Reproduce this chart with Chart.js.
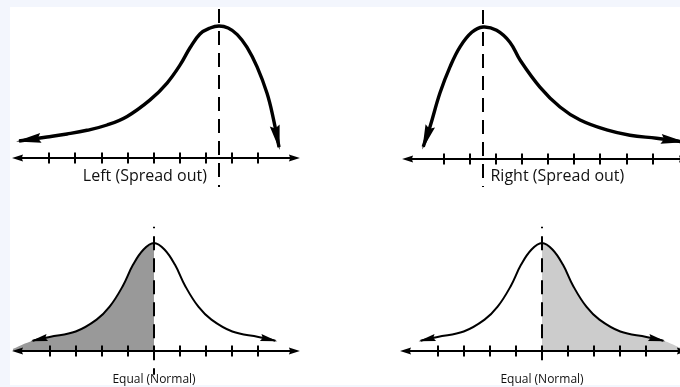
<!DOCTYPE html>
<html>
<head>
<meta charset="utf-8">
<script src="https://cdn.jsdelivr.net/npm/chart.js@4"></script>
<style>
  html, body { margin: 0; padding: 0; }
  body { width: 680px; height: 387px; background: #f3f6fd; position: relative; overflow: hidden; }
  .sheet { position: absolute; left: 10px; top: 7px; width: 670px; height: 378px; background: #fff; }
  canvas { position: absolute; }
</style>
</head>
<body>
<div class="sheet"></div>
<canvas id="leftSkew" width="330" height="193" style="left:10px;top:7px"></canvas>
<canvas id="rightSkew" width="340" height="193" style="left:340px;top:7px"></canvas>
<canvas id="leftShade" width="330" height="187" style="left:10px;top:200px"></canvas>
<canvas id="rightShade" width="340" height="187" style="left:340px;top:200px"></canvas>
<script>
// x in tick steps (0 = peak / dashed line), y relative to the peak height
const leftSkewX = [-7.66, -6.59, -5.82, -5.06, -4.29, -3.52, -2.64, -1.99, -1.49, -1.11, -0.73, -0.34, 0, 0.35, 0.7, 1.07, 1.46, 1.84, 2.07, 2.30];
const leftSkewY = [0.129, 0.159, 0.182, 0.21, 0.25, 0.315, 0.44, 0.568, 0.705, 0.835, 0.94, 0.985, 1, 0.985, 0.935, 0.84, 0.69, 0.49, 0.31, 0.083];
const rightSkewX = [-2.29, -2.03, -1.65, -1.26, -0.88, -0.43, 0, 0.52, 1.03, 1.42, 2.18, 2.95, 3.72, 4.74, 5.63, 6.65, 7.66];
const rightSkewY = [0.093, 0.245, 0.5, 0.70, 0.85, 0.96, 1, 0.975, 0.885, 0.75, 0.545, 0.394, 0.295, 0.22, 0.18, 0.157, 0.13];
const normalX = [-4.65, -4, -3, -2.2, -1.7, -1.2, -0.8, -0.4, 0, 0.4, 0.8, 1.2, 1.7, 2.2, 3, 4, 4.65];
const normalY = [0.095, 0.13, 0.18, 0.29, 0.41, 0.6, 0.8, 0.94, 1, 0.94, 0.8, 0.6, 0.41, 0.29, 0.18, 0.13, 0.095];
// where the shaded tails run into the axis
const shadeEdgeX = [-5.4, 5.3];
const shadeEdgeY = [0.02, 0.03];
const skewLeftTicks = [-6.5, -5.5, -4.5, -3.5, -2.5, -1.5, -0.5, 0.5, 1.5];
const skewRightTicks = [-1.5, -0.5, 0.5, 1.5, 2.5, 3.5, 4.5, 5.5, 6.5];
const normalTicks = [-4, -3, -2, -1, 0, 1, 2, 3, 4];
const panelLabels = ['Left (Spread out)', 'Right (Spread out)', 'Equal (Normal)', 'Equal (Normal)'];

const STEP_PX = 26.1;

function points(xs, ys) {
  return xs.map((x, i) => ({ x: x, y: ys[i] }));
}

function arrowHead(ctx, tip, from, len, half, ext) {
  const a = Math.atan2(tip.y - from.y, tip.x - from.x);
  ctx.save();
  ctx.translate(tip.x + Math.cos(a) * ext, tip.y + Math.sin(a) * ext);
  ctx.rotate(a);
  ctx.beginPath();
  ctx.moveTo(0, 0);
  ctx.lineTo(-len, -half);
  ctx.lineTo(-len * 0.88, 0);
  ctx.lineTo(-len, half);
  ctx.closePath();
  ctx.fill();
  ctx.restore();
}

const sketchPlugin = {
  id: 'sketch',
  afterDatasetsDraw(chart, args, opts) {
    const ctx = chart.ctx;
    const xs = chart.scales.x, ys = chart.scales.y;
    const y0 = ys.getPixelForValue(0);
    ctx.save();
    ctx.strokeStyle = '#000';
    ctx.fillStyle = '#000';

    // number line with arrows at both ends
    const ax1 = xs.getPixelForValue(opts.axis[0]);
    const ax2 = xs.getPixelForValue(opts.axis[1]);
    ctx.lineWidth = 1.8;
    ctx.beginPath();
    ctx.moveTo(ax1 + 6, y0);
    ctx.lineTo(ax2 - 6, y0);
    ctx.stroke();
    arrowHead(ctx, { x: ax1, y: y0 }, { x: ax1 + 10, y: y0 }, 11, 3.5, 0);
    arrowHead(ctx, { x: ax2, y: y0 }, { x: ax2 - 10, y: y0 }, 11, 3.5, 0);

    ctx.lineWidth = 2;
    opts.ticks.forEach(t => {
      const px = Math.round(xs.getPixelForValue(t));
      ctx.beginPath();
      ctx.moveTo(px, y0 - 5.5);
      ctx.lineTo(px, y0 + 5.5);
      ctx.stroke();
    });

    // dashed line through the peak
    const dx = xs.getPixelForValue(0);
    ctx.setLineDash([14, 8]);
    ctx.lineDashOffset = 12.5;
    ctx.beginPath();
    ctx.moveTo(dx, ys.getPixelForValue(opts.dash[0]));
    ctx.lineTo(dx, ys.getPixelForValue(opts.dash[1]));
    ctx.stroke();
    ctx.setLineDash([]);

    // arrow heads on the curve ends
    const pts = chart.getDatasetMeta(0).data;
    const n = pts.length;
    arrowHead(ctx, pts[0], pts[1], opts.head[0], opts.head[1], opts.head[2]);
    arrowHead(ctx, pts[n - 1], pts[n - 2], opts.head[0], opts.head[1], opts.head[2]);

    ctx.font = opts.font;
    ctx.fillStyle = '#111';
    ctx.textAlign = 'center';
    ctx.textBaseline = 'alphabetic';
    ctx.fillText(opts.label, xs.getPixelForValue(opts.labelAt[0]), ys.getPixelForValue(opts.labelAt[1]));
    ctx.restore();
  }
};

function drawPanel(id, layout, curve, shade, sketch) {
  const canvas = document.getElementById(id);
  const w = canvas.width, h = canvas.height;
  const datasets = [{
    data: curve,
    borderColor: '#000',
    borderWidth: layout.lineWidth,
    borderCapStyle: 'butt',
    borderJoinStyle: 'round',
    pointRadius: 0,
    tension: 0.4,
    fill: false,
    clip: false,
  }];
  if (shade) {
    datasets.push({
      data: shade.data,
      borderWidth: 0,
      borderColor: 'rgba(0,0,0,0)',
      backgroundColor: shade.color,
      pointRadius: 0,
      tension: 0.4,
      fill: 'origin',
    });
  }
  new Chart(canvas, {
    type: 'line',
    data: { datasets: datasets },
    plugins: [sketchPlugin],
    options: {
      responsive: false,
      animation: false,
      events: [],
      layout: { padding: 0 },
      plugins: { legend: { display: false }, tooltip: { enabled: false }, sketch: sketch },
      scales: {
        x: { type: 'linear', display: false, min: -layout.ox / STEP_PX, max: (w - layout.ox) / STEP_PX },
        y: { type: 'linear', display: false, min: -(h - layout.oy) / layout.yPx, max: layout.oy / layout.yPx },
      },
    },
  });
}

const leftTail = normalX.map((x, i) => ({ x: x, y: normalY[i] })).filter(p => p.x <= 0);
const rightTail = normalX.map((x, i) => ({ x: x, y: normalY[i] })).filter(p => p.x >= 0);

drawPanel('leftSkew', { ox: 209, oy: 151, yPx: 132, lineWidth: 3.4 },
  points(leftSkewX, leftSkewY), null,
  { axis: [-7.93, 3.1], ticks: skewLeftTicks, dash: [1.2, -0.22], head: [25, 5, 3],
    label: panelLabels[0], labelAt: [-2.84, -0.174], font: '16px "Open Sans"' });

drawPanel('rightSkew', { ox: 143, oy: 152, yPx: 132, lineWidth: 3.4 },
  points(rightSkewX, rightSkewY), null,
  { axis: [-3.1, 7.93], ticks: skewRightTicks, dash: [1.2, -0.212], head: [25, 5, 3],
    label: panelLabels[1], labelAt: [2.85, -0.167], font: '16px "Open Sans"' });

drawPanel('leftShade', { ox: 144, oy: 151, yPx: 108, lineWidth: 2 },
  points(normalX, normalY),
  { data: [{ x: shadeEdgeX[0], y: shadeEdgeY[0] }].concat(leftTail), color: '#999999' },
  { axis: [-5.44, 5.59], ticks: normalTicks, dash: [1.15, -0.22], head: [17, 3.5, 2],
    label: panelLabels[2], labelAt: [0, -0.296], font: '12px "Open Sans"' });

drawPanel('rightShade', { ox: 202, oy: 151, yPx: 108, lineWidth: 2 },
  points(normalX, normalY),
  { data: rightTail.concat([{ x: shadeEdgeX[1], y: shadeEdgeY[1] }]), color: '#cccccc' },
  { axis: [-5.44, 5.59], ticks: normalTicks, dash: [1.15, -0.157], head: [17, 3.5, 2],
    label: panelLabels[3], labelAt: [0, -0.296], font: '12px "Open Sans"' });
</script>
</body>
</html>
